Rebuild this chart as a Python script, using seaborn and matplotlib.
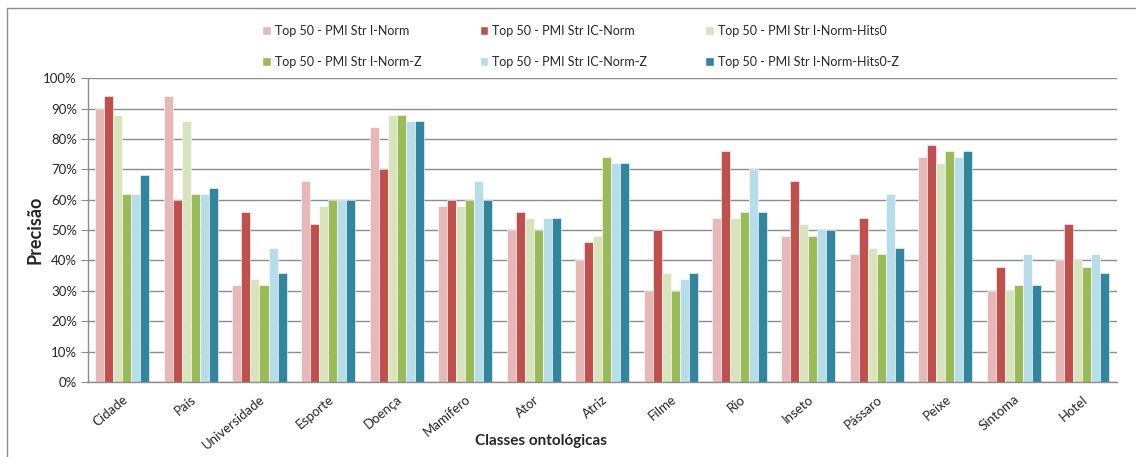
import matplotlib
matplotlib.use("Agg")
import matplotlib.pyplot as plt
import matplotlib.patches as mpatches
from matplotlib.lines import Line2D
from matplotlib.ticker import PercentFormatter
import pandas as pd
import seaborn as sns

categories = ["Cidade", "País", "Universidade", "Esporte", "Doença", "Mamífero", "Ator",
              "Atriz", "Filme", "Rio", "Inseto", "Pássaro", "Peixe", "Sintoma", "Hotel"]
series_names = ["Top 50 - PMI Str I-Norm", "Top 50 - PMI Str IC-Norm",
                "Top 50 - PMI Str I-Norm-Hits0", "Top 50 - PMI Str I-Norm-Z",
                "Top 50 - PMI Str IC-Norm-Z", "Top 50 - PMI Str I-Norm-Hits0-Z"]
i_norm = [90, 94, 32, 66, 84, 58, 50, 40, 30, 54, 48, 42, 74, 30, 40]
ic_norm = [94, 60, 56, 52, 70, 60, 56, 46, 50, 76, 66, 54, 78, 38, 52]
i_norm_hits0 = [88, 86, 34, 58, 88, 58, 54, 48, 36, 54, 52, 44, 72, 30, 40]
i_norm_z = [62, 62, 32, 60, 88, 60, 50, 74, 30, 56, 48, 42, 76, 32, 38]
ic_norm_z = [62, 62, 44, 60, 86, 66, 54, 72, 34, 70, 50, 62, 74, 42, 42]
i_norm_hits0_z = [68, 64, 36, 60, 86, 60, 54, 72, 36, 56, 50, 44, 76, 32, 36]
colors = ["#E6B9B8", "#C0504D", "#D7E4BD", "#9BBB59", "#B7DEE8", "#31859C"]

all_series = [i_norm, ic_norm, i_norm_hits0, i_norm_z, ic_norm_z, i_norm_hits0_z]
rows = []
for name, vals in zip(series_names, all_series):
    for cat, v in zip(categories, vals):
        rows.append({"Classe": cat, "Série": name, "Precisão": v})
df = pd.DataFrame(rows)

sns.set_style("white")
plt.rcParams["font.family"] = ["Lato", "DejaVu Sans"]

fig = plt.figure(figsize=(11.36, 4.57), dpi=100)
ax = fig.add_axes([0.0775, 0.164, 0.9055, 0.665])

sns.barplot(data=df, x="Classe", y="Precisão", hue="Série", order=categories,
            hue_order=series_names, palette=colors, width=0.79, saturation=1,
            edgecolor="white", linewidth=0.4, ax=ax, legend=False)

ax.set_ylim(0, 100)
ax.set_xlim(-0.5, len(categories) - 0.5)
ax.set_yticks(range(0, 101, 10))
ax.yaxis.set_major_formatter(PercentFormatter(decimals=0))
ax.yaxis.grid(True, color="#8C8C8C", linewidth=1)
ax.set_axisbelow(True)
for side in ["top", "right"]:
    ax.spines[side].set_visible(False)
for side in ["left", "bottom"]:
    ax.spines[side].set_color("#8C8C8C")
    ax.spines[side].set_linewidth(1)
ax.tick_params(axis="y", labelsize=9.5, length=5, color="#8C8C8C", left=True, pad=3)
ax.tick_params(axis="x", labelsize=9.5, length=0, pad=8)
ax.set_xticks(range(len(categories)))
ax.set_xticklabels(categories, rotation=40, ha="right", rotation_mode="anchor")

ax.set_ylabel("Precisão", fontsize=13, fontweight="bold", labelpad=0)
ax.set_xlabel("Classes ontológicas", fontsize=11, fontweight="bold", va="center")
ax.xaxis.set_label_coords(0.44, -0.194)

handles = [mpatches.Patch(facecolor=c, label=n) for c, n in zip(colors, series_names)]
order = [0, 3, 1, 4, 2, 5]
fig.legend([handles[i] for i in order], [series_names[i] for i in order],
           loc="upper center", bbox_to_anchor=(0.511, 0.97), ncol=3, frameon=False,
           fontsize=9, handlelength=0.7, handleheight=0.7, handletextpad=0.3,
           columnspacing=4.65, labelspacing=1.5)

# outer chart frame (top and left edges)
frame_kw = dict(transform=fig.transFigure, color="#8C8C8C", linewidth=1)
fig.add_artist(Line2D([0.006, 1.0], [0.9825, 0.9825], **frame_kw))
fig.add_artist(Line2D([0.006, 0.006], [0.0, 0.9825], **frame_kw))

fig.savefig("out.png", dpi=100)
